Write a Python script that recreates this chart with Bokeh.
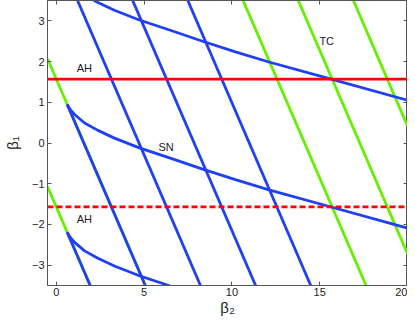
from bokeh.plotting import figure
from bokeh.models import Range1d, LinearAxis, FixedTicker
from bokeh.core.properties import value
from bokeh.embed import file_html
from bokeh.resources import INLINE

# --- data ---
# straight lines beta1 + beta2 = c  (c values, start beta2 of each segment)
green_c = [1.57, -1.57, 14.14, 17.28, 20.42]
green_start = [-0.5, -0.5, -0.5, -0.5, -0.5]
blue_c = [1.57, -1.57, 4.71, 7.85, 10.99]
blue_start = [0.62, 0.62, -0.5, -0.5, -0.5]
x_end = 20.0

# SN curves (beta2, beta1)
sn_x = [0.62, 0.80, 1.04, 1.61, 2.37, 3.31, 4.73, 6.62, 8.33, 10.2, 12.11, 15.55, 20.0]
sn_upper_y = [4.08, 3.96, 3.84, 3.63, 3.45, 3.26, 3.02, 2.75, 2.50, 2.24, 1.99, 1.58, 1.05]
sn_mid_y = [0.94, 0.82, 0.70, 0.49, 0.31, 0.12, -0.12, -0.39, -0.64, -0.90, -1.15, -1.56, -2.09]
sn_low_y = [-2.20, -2.32, -2.44, -2.65, -2.83, -3.02, -3.26, -3.53, -3.78, -4.04, -4.29, -4.70, -5.23]

# AH lines
ah_solid = 1.57
ah_dashed = -1.57

labels = ["AH", "SN", "TC", "AH"]
label_x = [1.6, 6.25, 15.4, 1.6]
label_y = [1.84, -0.10, 2.50, -1.86]

x_ticks = [0, 5, 10, 15, 20]
y_ticks = [-3, -2, -1, 0, 1, 2, 3]

BLUE = "#2040f5"
GREEN = "#66f000"
RED = "#ff0000"
AX = "#555555"
FONT = "Liberation Sans"

p = figure(width=407, height=318, output_backend="svg", toolbar_location=None,
           x_range=Range1d(-0.5, 20), y_range=Range1d(-3.5, 3.5),
           min_border_left=10, min_border_right=0, min_border_top=0, min_border_bottom=10)
p.grid.visible = False
p.outline_line_color = AX
p.background_fill_color = "white"

for c, s in zip(green_c, green_start):
    p.line([s, x_end], [c - s, c - x_end], line_color=GREEN, line_width=2.8)
for c, s in zip(blue_c, blue_start):
    p.line([s, x_end], [c - s, c - x_end], line_color=BLUE, line_width=2.8)
for ys in (sn_upper_y, sn_mid_y, sn_low_y):
    p.line(sn_x, ys, line_color=BLUE, line_width=2.8)

p.line([-0.5, 20], [ah_solid, ah_solid], line_color=RED, line_width=2.8)
p.line([-0.5, 20], [ah_dashed, ah_dashed], line_color=RED, line_width=2.8, line_dash="6 3")

p.text(label_x, label_y, text=labels, text_font=value(FONT), text_font_size="11px",
       text_align="center", text_baseline="middle", text_color="#222222")

def style(ax, show_labels):
    ax.axis_line_color = AX
    ax.major_tick_line_color = AX
    ax.minor_tick_line_color = None
    ax.major_tick_in = 4
    ax.major_tick_out = 0
    ax.major_label_text_font = FONT
    ax.major_label_text_font_size = "11px" if show_labels else "0px"
    ax.major_label_text_color = "#222222"
    ax.major_label_standoff = 3 if show_labels else 0

p.xaxis.ticker = FixedTicker(ticks=x_ticks)
p.yaxis.ticker = FixedTicker(ticks=y_ticks)
style(p.xaxis[0], True)
style(p.yaxis[0], True)
p.xaxis[0].major_label_standoff = 2
p.yaxis[0].major_label_overrides = {t: (("\u2212" + str(-t)) if t < 0 else str(t)) for t in y_ticks}
p.xaxis[0].axis_label = "β₂"
p.yaxis[0].axis_label = "β₁"
for ax in (p.xaxis[0], p.yaxis[0]):
    ax.axis_label_text_font = FONT
    ax.axis_label_text_font_size = "15px"
    ax.axis_label_text_font_style = "normal"
    ax.axis_label_text_color = "#222222"
p.xaxis[0].axis_label_standoff = 0
p.yaxis[0].axis_label_standoff = 8

top = LinearAxis(ticker=FixedTicker(ticks=x_ticks))
right = LinearAxis(ticker=FixedTicker(ticks=y_ticks))
style(top, False)
style(right, False)
top.major_label_overrides = {t: "" for t in x_ticks}
right.major_label_overrides = {t: "" for t in y_ticks}
p.add_layout(top, "above")
p.add_layout(right, "right")

open("out.html", "w").write(file_html(p, INLINE))
